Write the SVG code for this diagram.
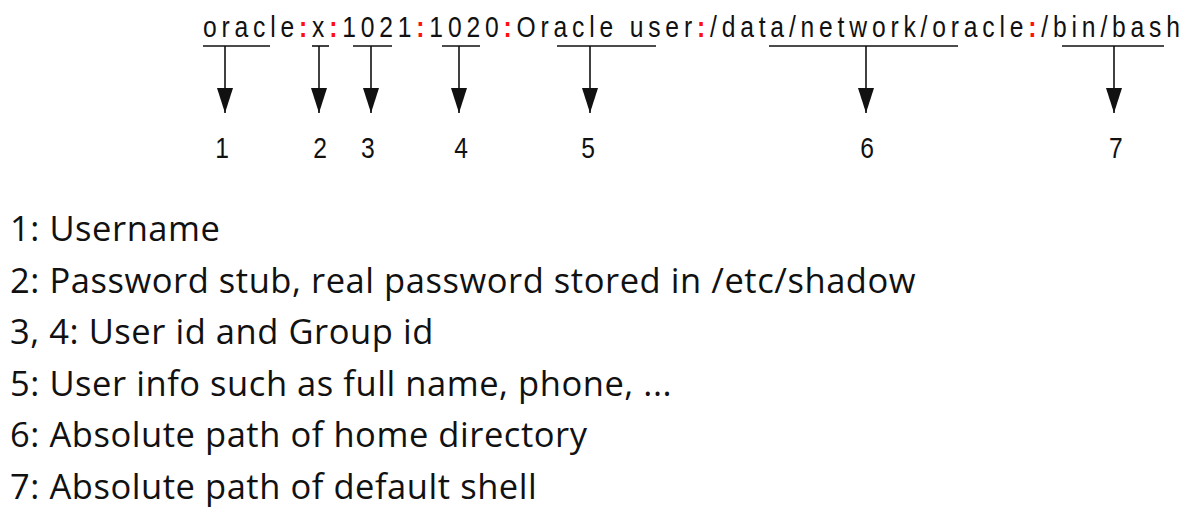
<svg xmlns="http://www.w3.org/2000/svg" width="1191" height="520" viewBox="0 0 1191 520">
<style>
.rec{font-family:"Liberation Sans",Arial,sans-serif;font-size:29px;fill:#111}
.sep{fill:#ff1010;font-weight:bold}
.num{font-family:"Liberation Sans",Arial,sans-serif;font-size:29px;fill:#111;text-anchor:middle}
.ul{stroke:#111;stroke-width:1.6}
.arr{stroke:#111;stroke-width:1.6;fill:none;marker-end:url(#ah)}
.leg{font-family:"Open Sans",Lato,sans-serif;font-size:34.5px;letter-spacing:0.55px;fill:#111}
</style>
<defs>
<marker id="ah" viewBox="-25 -8 25 16" refX="0" refY="0" markerWidth="25" markerHeight="16" markerUnits="userSpaceOnUse" orient="auto">
<path d="M-25,-8 L0,0 L-25,8 Z" fill="#111"/>
</marker>
</defs>
<g id="record" transform="scale(0.85,1)">
<text class="rec" x="238.8" y="37" textLength="1149.4" lengthAdjust="spacing">oracle<tspan class="sep">:</tspan>x<tspan class="sep">:</tspan>1021<tspan class="sep">:</tspan>1020<tspan class="sep">:</tspan>Oracle user<tspan class="sep">:</tspan>/data/network/oracle<tspan class="sep">:</tspan>/bin/bash</text>
</g>
<g id="underlines">
<line class="ul" x1="203" y1="46" x2="270" y2="46"/>
<line class="ul" x1="312" y1="46" x2="329" y2="46"/>
<line class="ul" x1="353" y1="46" x2="392" y2="46"/>
<line class="ul" x1="442" y1="46" x2="480" y2="46"/>
<line class="ul" x1="557" y1="46" x2="656" y2="46"/>
<line class="ul" x1="769" y1="46" x2="958" y2="46"/>
<line class="ul" x1="1062" y1="46" x2="1164" y2="46"/>
</g>
<g id="connectors">
<line class="arr" x1="225" y1="46" x2="225" y2="113"/>
<line class="arr" x1="319" y1="46" x2="319" y2="113"/>
<line class="arr" x1="371" y1="46" x2="371" y2="113"/>
<line class="arr" x1="459" y1="46" x2="459" y2="113"/>
<line class="arr" x1="590" y1="46" x2="590" y2="113"/>
<line class="arr" x1="866" y1="46" x2="866" y2="113"/>
<line class="arr" x1="1114" y1="46" x2="1114" y2="113"/>
</g>
<g id="labels" transform="scale(0.85,1)">
<text class="num" x="261.2" y="158">1</text>
<text class="num" x="376.5" y="158">2</text>
<text class="num" x="432.9" y="158">3</text>
<text class="num" x="542.4" y="158">4</text>
<text class="num" x="691.8" y="158">5</text>
<text class="num" x="1020" y="158">6</text>
<text class="num" x="1312.9" y="158">7</text>
</g>
<g id="legend">
<text class="leg" x="10" y="241">1: Username</text>
<text class="leg" x="10" y="293">2: Password stub, real password stored in /etc/shadow</text>
<text class="leg" x="10" y="344">3, 4: User id and Group id</text>
<text class="leg" x="10" y="396">5: User info such as full name, phone, ...</text>
<text class="leg" x="10" y="447">6: Absolute path of home directory</text>
<text class="leg" x="10" y="499">7: Absolute path of default shell</text>
</g>
</svg>
